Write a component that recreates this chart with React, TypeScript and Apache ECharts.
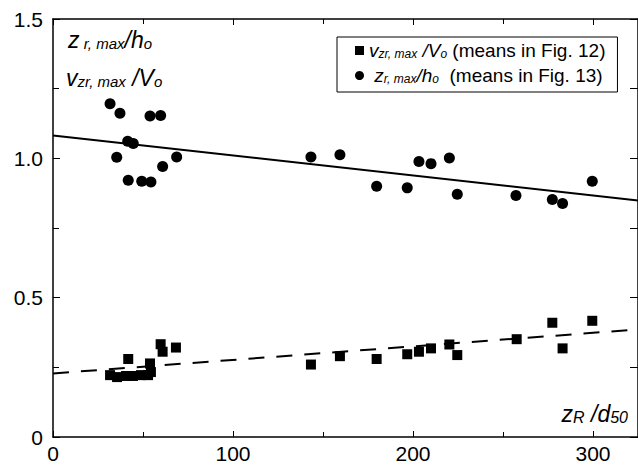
import React, { useEffect, useRef } from "react";
import * as echarts from "echarts";

// Circles: z_r,max / h_o (means in Fig. 13)
const zrX = [31.7, 37.2, 35.4, 41.5, 44.6, 41.8, 49.3, 54.4, 53.9, 59.8, 60.9, 68.7, 143.3, 159.4, 179.8, 196.8, 203.3, 210.0, 220.2, 224.6, 257.2, 277.4, 283.1, 299.6];
const zrY = [1.196, 1.162, 1.004, 1.061, 1.053, 0.921, 0.918, 0.915, 1.152, 1.154, 0.971, 1.005, 1.005, 1.013, 0.900, 0.894, 0.989, 0.981, 1.001, 0.871, 0.867, 0.852, 0.838, 0.918];

// Squares: v_zr,max / V_o (means in Fig. 12)
const vzX = [31.7, 35.6, 40.6, 41.8, 44.4, 48.9, 52.8, 54.4, 53.9, 59.8, 60.9, 68.3, 143.3, 159.4, 179.8, 196.8, 203.3, 210.0, 220.2, 224.6, 257.6, 277.4, 283.1, 299.6];
const vzY = [0.222, 0.215, 0.219, 0.280, 0.219, 0.222, 0.222, 0.233, 0.264, 0.333, 0.306, 0.321, 0.260, 0.290, 0.280, 0.297, 0.306, 0.318, 0.332, 0.294, 0.351, 0.410, 0.318, 0.417];

// Fitted trend lines
const fitX = [0, 325];
const zrFit = [1.082, 0.849];
const vzFit = [0.228, 0.386];

const xTicks = [0, 100, 200, 300];
const yTicks = ["0", "0.5", "1.0", "1.5"];

const FONT = "'Liberation Sans', Arial, Helvetica, sans-serif";

export default function App() {
  const ref = useRef<HTMLDivElement>(null);
  useEffect(() => {
    if (!ref.current) return;
    const chart = echarts.init(ref.current, null, { renderer: "svg" });
    const pairs = (xs: number[], ys: number[]) => xs.map((x, i) => [x, ys[i]]);

    const richMain = (size: number) => ({
      fontFamily: FONT,
      fontStyle: "italic" as const,
      fontSize: size,
      lineHeight: size,
      color: "#000",
      padding: [0, 0, 4, 0],
      verticalAlign: "top" as const,
    });
    const richSub = (size: number) => ({
      fontFamily: FONT,
      fontStyle: "italic" as const,
      fontSize: size,
      lineHeight: size,
      color: "#000",
      verticalAlign: "bottom" as const,
    });
    const richText = (size: number) => ({
      fontFamily: FONT,
      fontSize: size,
      lineHeight: size,
      color: "#000",
      padding: [0, 0, 4, 0],
      verticalAlign: "top" as const,
    });

    const xAxisBase = {
      type: "value" as const,
      min: 0,
      max: 325,
      interval: 100,
      splitLine: { show: false },
      axisLine: { show: true, onZero: false, lineStyle: { color: "#000", width: 1.5 } },
      axisTick: { show: true, inside: true, length: 6, lineStyle: { color: "#000" } },
      minorTick: { show: true, splitNumber: 2, length: 5, lineStyle: { color: "#000" } },
      minorSplitLine: { show: false },
    };
    const yAxisBase = {
      type: "value" as const,
      min: 0,
      max: 1.5,
      interval: 0.5,
      splitLine: { show: false },
      axisLine: { show: true, onZero: false, lineStyle: { color: "#000", width: 1.5 } },
      axisTick: { show: true, inside: true, length: 7, lineStyle: { color: "#000" } },
      minorTick: { show: true, splitNumber: 2, length: 6, lineStyle: { color: "#000" } },
      minorSplitLine: { show: false },
    };

    chart.setOption({
      animation: false,
      backgroundColor: "#fff",
      grid: { left: 53, right: 0, top: 19, bottom: 33, containLabel: false },
      xAxis: [
        {
          ...xAxisBase,
          position: "bottom",
          axisLabel: {
            show: true,
            color: "#000",
            fontFamily: FONT,
            fontSize: 21,
            margin: 6,
            showMaxLabel: false,
            formatter: (v: number) => (xTicks.includes(v) ? String(v) : ""),
          },
        },
        {
          ...xAxisBase,
          position: "top",
          axisLabel: { show: false },
        },
      ],
      yAxis: [
        {
          ...yAxisBase,
          position: "left",
          axisLabel: {
            show: true,
            color: "#000",
            fontFamily: FONT,
            fontSize: 21,
            margin: 10,
            formatter: (v: number) => yTicks[Math.round(v / 0.5)] ?? "",
          },
        },
        {
          ...yAxisBase,
          position: "right",
          axisLabel: { show: false },
          axisTick: { show: true, inside: true, length: 8, lineStyle: { color: "#000" } },
          minorTick: { show: true, splitNumber: 2, length: 8, lineStyle: { color: "#000" } },
        },
      ],
      legend: {
        orient: "vertical",
        left: 337,
        top: 37,
        padding: [4, 12, 3, 18],
        itemGap: 2,
        itemWidth: 9,
        itemHeight: 9,
        borderColor: "#000",
        borderWidth: 1,
        backgroundColor: "#fff",
        data: [
          { name: "vz", icon: "rect" },
          { name: "zr", icon: "circle" },
        ],
        formatter: (name: string) =>
          name === "vz"
            ? "{i|v}{s|zr, max}{i| /V}{s|o}{t| (means in Fig. 12)}"
            : "{i| z}{s|r, max}{i|/h}{s|o}{t|  (means in Fig. 13)}",
        textStyle: {
          color: "#000",
          rich: { i: richMain(19), s: richSub(12), t: richText(19) },
        },
      },
      graphic: [
        {
          type: "text",
          left: 68,
          top: 28,
          style: {
            text: "{i|z}{s| r, max}{i|/h}{s|o}",
            rich: { i: richMain(23), s: richSub(15) },
          },
        },
        {
          type: "text",
          left: 66,
          top: 66,
          style: {
            text: "{i|v}{s|zr, max}{i| /V}{s|o}",
            rich: { i: richMain(23), s: richSub(15) },
          },
        },
        {
          type: "text",
          right: 10,
          top: 402,
          style: {
            text: "{i|z}{s|R}{i| /d}{s|50}",
            rich: { i: richMain(23), s: richSub(16) },
          },
        },
      ],
      series: [
        {
          name: "vz",
          type: "scatter",
          symbol: "rect",
          symbolSize: 10,
          itemStyle: { color: "#000", opacity: 1 },
          data: pairs(vzX, vzY),
          z: 3,
        },
        {
          name: "zr",
          type: "scatter",
          symbol: "circle",
          symbolSize: 11,
          itemStyle: { color: "#000", opacity: 1 },
          data: pairs(zrX, zrY),
          z: 3,
        },
        {
          name: "zrFit",
          type: "line",
          symbol: "none",
          lineStyle: { color: "#000", width: 2 },
          data: pairs(fitX, zrFit),
          z: 2,
        },
        {
          name: "vzFit",
          type: "line",
          symbol: "none",
          lineStyle: { color: "#000", width: 2, type: [16, 12] },
          data: pairs(fitX, vzFit),
          z: 2,
        },
      ],
    });
    return () => chart.dispose();
  }, []);
  return (
    <div
      ref={ref}
      style={{ position: "fixed", left: 0, top: 0, width: 638, height: 470 }}
    />
  );
}
